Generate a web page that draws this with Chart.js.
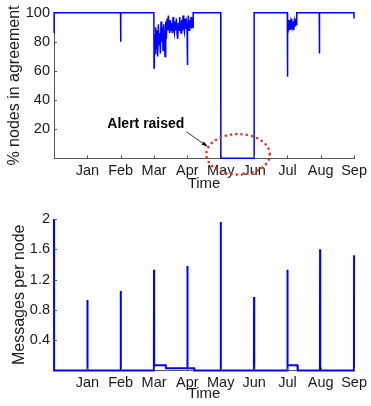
<!DOCTYPE html>
<html><head><meta charset="utf-8">
<script src="https://cdn.jsdelivr.net/npm/chart.js@4/dist/chart.umd.min.js"></script>
<style>
html,body{margin:0;padding:0;background:#fff;width:371px;height:406px;overflow:hidden}
canvas{display:block;position:absolute;left:0}
#top{top:0}#bot{top:200px}
</style></head>
<body>
<canvas id="top" width="371" height="200"></canvas>
<canvas id="bot" width="371" height="206"></canvas>
<script>
// ---- data (months counted from Dec = 0) ----
const monthLabels = ['Dec','Jan','Feb','Mar','Apr','May','Jun','Jul','Aug','Sep'];
const monthTicks = [1,2,3,4,5,6,7,8,9];
const agreeTicks = [20,40,60,80,100];
const msgTicks = [0.4,0.8,1.2,1.6,2];

const agreeTime = [0,0.004,1.995,2.0,2.005,2.995,3.0,
  3.01,3.03,3.05,3.07,3.09,3.11,3.13,3.15,3.17,3.19,3.21,3.23,3.25,3.27,3.29,3.31,3.33,3.35,3.37,
  3.39,3.41,3.43,3.45,3.47,3.49,3.51,3.53,3.55,3.57,3.59,3.61,3.63,3.65,3.67,3.69,3.71,3.73,3.75,
  3.77,3.79,3.81,3.83,3.85,3.87,3.89,3.91,3.93,3.95,3.97,3.99,4.0,4.01,4.03,4.05,4.07,4.09,4.11,
  4.13,4.15,4.17,4.175,5.0,5.003,6.0,6.003,
  6.997,7.0,7.01,7.03,7.05,7.07,7.09,7.11,7.13,7.15,7.17,7.19,7.21,7.23,7.25,7.27,7.28,
  7.955,7.96,7.965,8.995,9.0];
const agreePct = [86,100,100,80,100,100,62,
  85,72,90,75,88,70,92,78,86,72,94,80,90,74,92,84,70,94,82,
  96,88,98,90,86,95,88,93,86,97,89,86,94,88,96,86,82,93,88,
  97,90,86,95,88,98,90,87,96,89,93,88,64,90,98,88,95,90,97,
  89,93,90,100,100,0,0,100,
  100,56,94,90,95,88,93,89,96,90,92,88,94,91,96,92,100,
  100,72,100,100,96];

const msgTime = [0,0.004,
  0.996,1.0,1.005,1.008,
  1.996,2.0,2.004,2.007,
  2.996,3.0,3.004,3.007,3.35,3.36,3.996,4.0,4.004,4.007,4.2,4.21,
  4.996,5.0,5.006,
  5.996,6.0,6.006,
  6.996,7.0,7.004,7.007,7.3,7.31,
  7.976,7.98,7.984,7.987,
  8.996,9.0];
const msgRate = [2,0,
  0,0.93,0.93,0,
  0,1.05,0.53,0,
  0,1.33,0.82,0.07,0.07,0.03,0.03,1.38,0.69,0.03,0.03,0,
  0,1.96,0,
  0,0.97,0,
  0,1.33,0.72,0.07,0.07,0,
  0,1.6,0.83,0,
  0,1.52];

// ---- styling ----
const FONT = "'Liberation Sans', Arial, sans-serif";
const TXT = '#1a1a1a';
const AXIS = '#555';
const BLUE = '#0000ff';

const inwardTicks = {
  id: 'inwardTicks',
  afterDraw(chart) {
    const {ctx, chartArea: a, scales: {x, y}} = chart;
    ctx.save();
    ctx.strokeStyle = AXIS; ctx.lineWidth = 1;
    ctx.beginPath();
    x.ticks.forEach(t => { const px = Math.round(x.getPixelForValue(t.value)) + 0.5;
      ctx.moveTo(px, a.bottom); ctx.lineTo(px, a.bottom - 3); });
    y.ticks.forEach(t => { const py = Math.round(y.getPixelForValue(t.value)) + 0.5;
      ctx.moveTo(a.left, py); ctx.lineTo(a.left + 3, py); });
    ctx.stroke();
    ctx.restore();
  }
};

const alertNote = {
  id: 'alertNote',
  afterDraw(chart, args, opts) {
    if (!opts.show) return;
    const {ctx, scales: {x, y}} = chart;
    ctx.save();
    ctx.font = "bold 14px " + FONT;
    ctx.fillStyle = '#000';
    ctx.textBaseline = 'middle';
    ctx.textAlign = 'left';
    ctx.fillText('Alert raised', x.getPixelForValue(1.6), y.getPixelForValue(23.5));
    const x1 = x.getPixelForValue(3.97), y1 = y.getPixelForValue(18.2);
    const x2 = x.getPixelForValue(4.6), y2 = y.getPixelForValue(8.2);
    ctx.strokeStyle = '#000'; ctx.lineWidth = 0.8;
    ctx.beginPath(); ctx.moveTo(x1, y1); ctx.lineTo(x2, y2); ctx.stroke();
    const ang = Math.atan2(y2 - y1, x2 - x1), L = 6;
    ctx.fillStyle = '#000';
    ctx.beginPath(); ctx.moveTo(x2, y2);
    ctx.lineTo(x2 - L*Math.cos(ang - 0.35), y2 - L*Math.sin(ang - 0.35));
    ctx.lineTo(x2 - L*Math.cos(ang + 0.35), y2 - L*Math.sin(ang + 0.35));
    ctx.closePath(); ctx.fill();
    const cx = x.getPixelForValue(5.52), cy = y.getPixelForValue(2.7);
    const rx = x.getPixelForValue(5.52 + 0.953) - cx, ry = y.getPixelForValue(2.7) - y.getPixelForValue(2.7 + 13.9);
    ctx.strokeStyle = '#d93a1e'; ctx.lineWidth = 2.6; ctx.lineCap = 'round';
    ctx.setLineDash([0.1, 5.2]);
    ctx.beginPath(); ctx.ellipse(cx, cy, rx, ry, 0, 0, Math.PI * 2); ctx.stroke();
    ctx.restore();
  }
};

function makeChart(id, times, vals, ymax, yTicks, yTitle, xAxisH, pad, yTitlePad, xTitlePad, showNote, lineW) {
  return new Chart(document.getElementById(id), {
    type: 'line',
    data: { datasets: [{ data: times.map((t, i) => ({x: t, y: vals[i]})),
      borderColor: BLUE, borderWidth: lineW, pointRadius: 0, tension: 0, clip: 4 }] },
    options: {
      responsive: false, animation: false, devicePixelRatio: 1,
      layout: { padding: pad },
      plugins: { legend: {display: false}, tooltip: {enabled: false}, alertNote: {show: showNote} },
      scales: {
        x: {
          type: 'linear', min: 0, max: 9,
          afterBuildTicks: s => { s.ticks = monthTicks.map(v => ({value: v})); },
          afterFit: s => { s.height = xAxisH; },
          grid: { display: true, drawOnChartArea: false, drawTicks: false },
          border: { display: true, color: AXIS, width: 1 },
          ticks: { autoSkip: false, maxRotation: 0, padding: 4, color: TXT,
            font: {family: FONT, size: 14.5}, callback: v => monthLabels[v] },
          title: { display: true, text: 'Time', color: TXT, font: {family: FONT, size: 15}, padding: xTitlePad }
        },
        y: {
          min: 0, max: ymax,
          afterBuildTicks: s => { s.ticks = yTicks.map(v => ({value: v})); },
          afterFit: s => { s.width = 54; },
          grid: { display: true, drawOnChartArea: false, drawTicks: false },
          border: { display: true, color: AXIS, width: 1 },
          ticks: { autoSkip: false, padding: 4, color: TXT, font: {family: FONT, size: 14.5}, callback: v => String(v) },
          title: { display: true, text: yTitle, color: TXT, font: {family: FONT, size: 16}, padding: yTitlePad }
        }
      }
    },
    plugins: [inwardTicks, alertNote]
  });
}

makeChart('top', agreeTime, agreePct, 100, agreeTicks, '% nodes in agreement', 41.7,
  {top: 8.3, right: 13, left: 0, bottom: 0}, {top: 5, bottom: 0}, {top: 0, bottom: 7.5}, true, 1.5);
makeChart('bot', msgTime, msgRate, 2, msgTicks, 'Messages per node', 35.5,
  {top: 19, right: 13, left: 0, bottom: 0}, {top: 10, bottom: 0}, {top: 0, bottom: 3.5}, false, 2);
</script>
</body></html>
